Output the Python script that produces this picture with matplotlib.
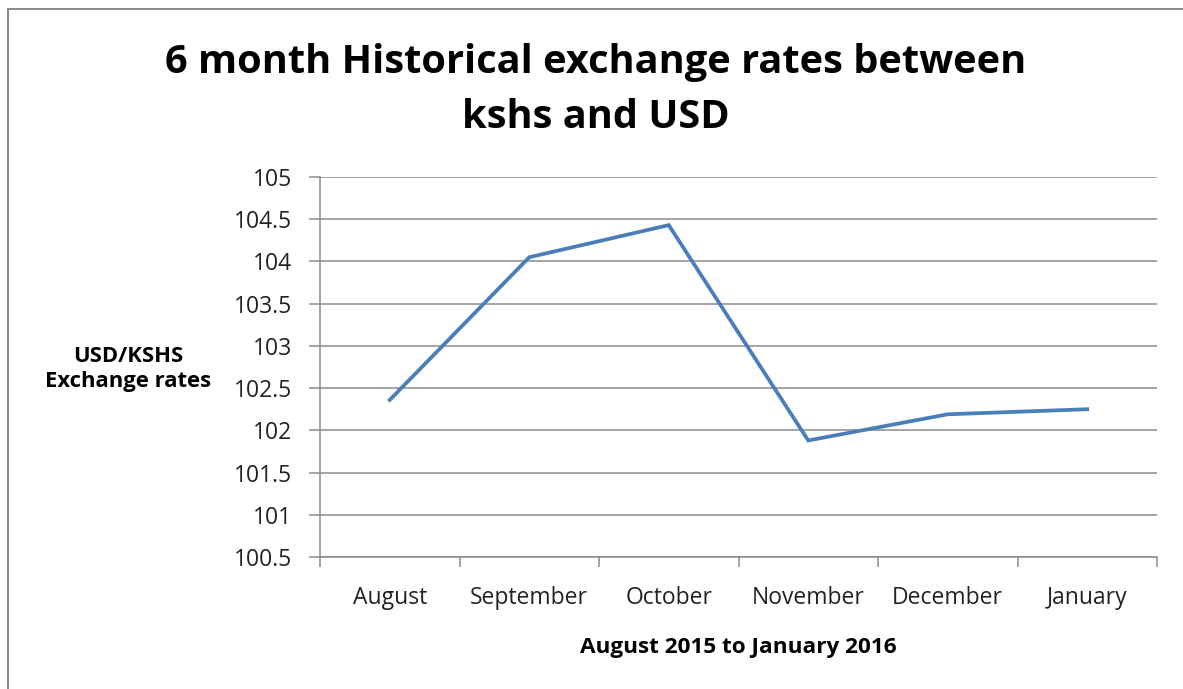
import matplotlib
matplotlib.use("Agg")
import matplotlib.pyplot as plt
from matplotlib.patches import Rectangle

months = ["August", "September", "October", "November", "December", "January"]
rates = [102.36, 104.05, 104.43, 101.88, 102.19, 102.25]
yticks = [100.5, 101, 101.5, 102, 102.5, 103, 103.5, 104, 104.5, 105]
ytick_labels = ["100.5", "101", "101.5", "102", "102.5", "103", "103.5", "104", "104.5", "105"]

W, H = 1183, 689
fig = plt.figure(figsize=(W / 100, H / 100), dpi=100)
plt.rcParams['font.family'] = ['Open Sans', 'DejaVu Sans']

# outer border
fig.patches.append(Rectangle((7.5 / W, -0.01), 1.2, (H - 8.5) / H + 0.01,
                             transform=fig.transFigure, fill=False,
                             edgecolor="#8c8c8c", linewidth=1.5))

x0, x1, ytop, ybot = 320, 1157, 177, 557
ax = fig.add_axes([x0 / W, 1 - ybot / H, (x1 - x0) / W, (ybot - ytop) / H])

x = list(range(len(months)))
ax.plot(x, rates, color="#4A7EBB", linewidth=2.7, solid_joinstyle="miter")

ax.set_xlim(-0.5, len(months) - 0.5)
ax.set_ylim(100.5, 105)
ax.set_yticks(yticks)
ax.set_yticklabels(ytick_labels)
ax.yaxis.grid(True, color="#8c8c8c", linewidth=1.1)
ax.set_axisbelow(True)

ax.set_xticks(x)
ax.set_xticklabels(months)
ax.set_xticks([i - 0.5 for i in range(len(months) + 1)], minor=True)
ax.tick_params(axis="x", which="major", length=0, pad=21, labelsize=16.5, colors="#222222")
ax.tick_params(axis="x", which="minor", length=7, color="#8c8c8c", width=1.1)
ax.tick_params(axis="y", length=8, color="#8c8c8c", width=1.1, labelsize=16.5, pad=12, colors="#222222")

for s in ["top", "right"]:
    ax.spines[s].set_visible(False)
for s in ["left", "bottom"]:
    ax.spines[s].set_color("#8c8c8c")
    ax.spines[s].set_linewidth(1.1)

fig.text(596 / W, 1 - 62 / H, "6 month Historical exchange rates between",
         ha="center", va="center", fontsize=28.6, fontweight="bold")
fig.text(596 / W, 1 - 118 / H, "kshs and USD",
         ha="center", va="center", fontsize=28.6, fontweight="bold")
fig.text(128 / W, 1 - 369 / H, "USD/KSHS\nExchange rates", ha="center", va="center",
         fontsize=15.8, fontweight="bold", linespacing=1.25)
fig.text(738 / W, 1 - 648 / H, "August 2015 to January 2016", ha="center", va="center",
         fontsize=16.2, fontweight="bold")

fig.savefig("out.png", dpi=100)
